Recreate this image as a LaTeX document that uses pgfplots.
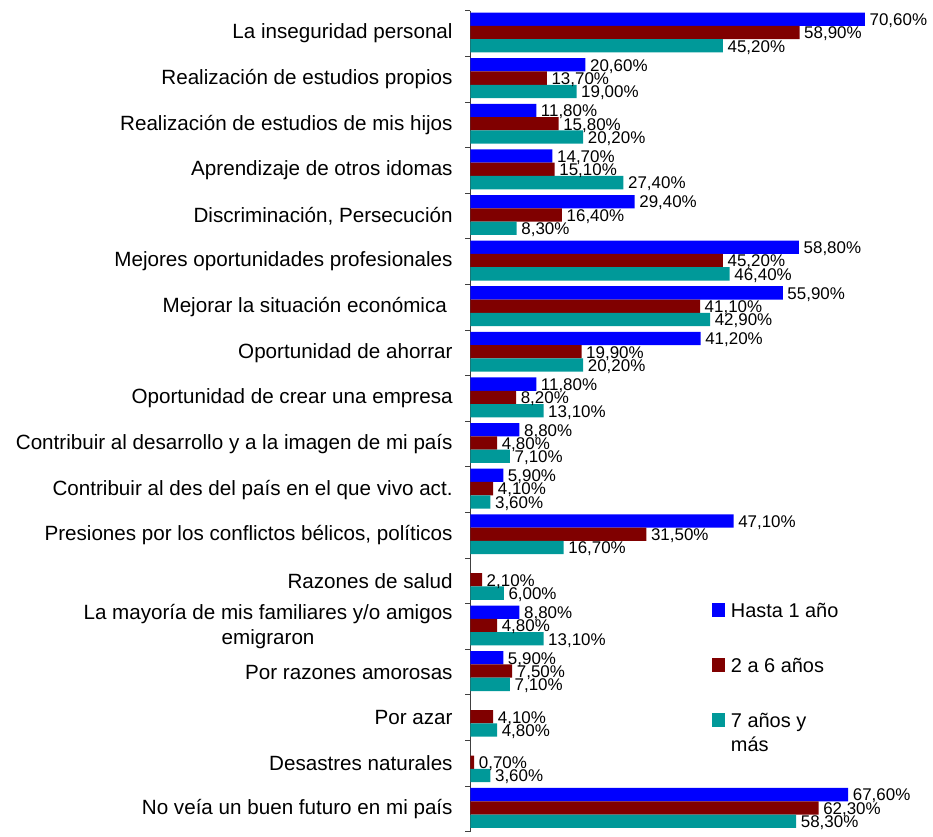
\documentclass[border=0pt]{standalone}
\usepackage{pgfplots}
\pgfplotsset{compat=1.18}
\usepackage{fontspec}
\setmainfont{Liberation Sans}
\definecolor{cBlue}{HTML}{0000FF}
\definecolor{cRed}{HTML}{800000}
\definecolor{cTeal}{HTML}{009999}

\begin{document}
\begin{tikzpicture}
\pgfplotsset{sq legend/.style={legend image code/.code={\fill[##1] (0bp,0bp) rectangle (13bp,14bp);}}}
\begin{axis}[
  xbar, scale only axis,
  width=447.2bp, height=821bp,
  xmin=0, xmax=80, ymin=-0.5, ymax=17.5,
  y dir=reverse,
  hide x axis,
  axis y line*=left,
  y axis line style={black!75, line width=0.8bp},
  ytick={0,...,17},
  yticklabels={La inseguridad personal,
    Realización de estudios propios,
    Realización de estudios de mis hijos,
    Aprendizaje de otros idomas,
    {Discriminación, Persecución},
    Mejores oportunidades profesionales,
    Mejorar la situación económica\ ,
    Oportunidad de ahorrar,
    Oportunidad de crear una empresa,
    Contribuir al desarrollo y a la imagen de mi país,
    Contribuir al des del país en el que vivo act.,
    {Presiones por los conflictos bélicos, políticos},
    Razones de salud,
    La mayoría de mis familiares y/o amigos\\emigraron,
    Por razones amorosas,
    Por azar,
    Desastres naturales,
    No veía un buen futuro en mi país},
  major tick length=0pt,
  extra y ticks={-0.5,0.5,...,17.5},
  extra y tick labels={},
  extra y tick style={tick align=outside, major tick length=5bp, tick style={black!75, line width=0.8bp}},
  yticklabel style={font=\fontsize{20.7}{25}\selectfont, align=center, inner sep=0pt, xshift=-17.5bp},
  bar width=13.3bp,
  point meta=x,
  nodes near coords={\pgfmathprintnumber[fixed,fixed zerofill,precision=2,use comma]{\pgfplotspointmeta}\%},
  every node near coord/.append style={font=\fontsize{17}{20}\selectfont, anchor=west, inner sep=4.5bp, yshift=-1.5bp, black},
  /pgf/number format/assume math mode=true,
  legend style={at={(axis cs:43.2,12.42)}, anchor=north west, draw=none, fill=none,
    inner sep=0pt, font=\fontsize{20}{24}\selectfont, row sep=34.5bp, column sep=4bp,
    cells={anchor=base west, inner xsep=2bp, inner ysep=0pt, text height=15bp, text depth=4bp}},
]
\addplot[fill=cBlue, draw=none, bar shift=14.3bp, sq legend] coordinates {
  (70.6,0) (20.6,1) (11.8,2) (14.7,3) (29.4,4) (58.8,5) (55.9,6) (41.2,7) (11.8,8)
  (8.8,9) (5.9,10) (47.1,11) (8.8,13) (5.9,14) (67.6,17)};
\addplot[fill=cRed, draw=none, bar shift=1bp, sq legend] coordinates {
  (58.9,0) (13.7,1) (15.8,2) (15.1,3) (16.4,4) (45.2,5) (41.1,6) (19.9,7) (8.2,8)
  (4.8,9) (4.1,10) (31.5,11) (2.1,12) (4.8,13) (7.5,14) (4.1,15) (0.7,16) (62.3,17)};
\addplot[fill=cTeal, draw=none, bar shift=-12.3bp, sq legend] coordinates {
  (45.2,0) (19.0,1) (20.2,2) (27.4,3) (8.3,4) (46.4,5) (42.9,6) (20.2,7) (13.1,8)
  (7.1,9) (3.6,10) (16.7,11) (6.0,12) (13.1,13) (7.1,14) (4.8,15) (3.6,16) (58.3,17)};
\addlegendentry{Hasta 1 año}
\addlegendentry{2 a 6 años}
\addlegendentry{\begin{tabular}[t]{@{}l@{}}7 años y\\más\end{tabular}}
\end{axis}
\path (current axis.south west) ++(-470.3bp,-5.3bp) rectangle ([shift={(15.5bp,10.7bp)}]current axis.north east);
\end{tikzpicture}
\end{document}
